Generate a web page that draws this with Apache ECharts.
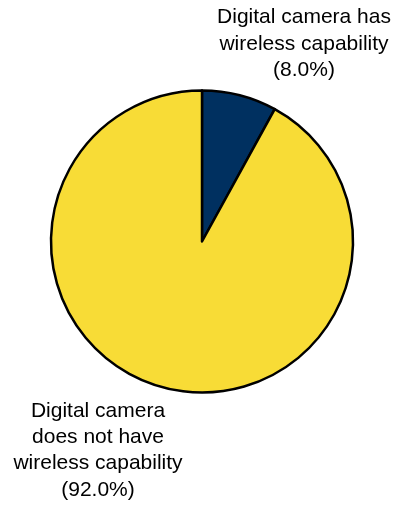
<!DOCTYPE html>
<html>
<head>
<meta charset="utf-8">
<script src="https://cdn.jsdelivr.net/npm/echarts@6/dist/echarts.min.js"></script>
<style>
  html, body { margin: 0; padding: 0; background: #ffffff; }
  #chart { width: 398px; height: 506px; }
</style>
</head>
<body>
<div id="chart"></div>
<script>
// Share of digital cameras with / without wireless capability (percent)
const categories = [
  'Digital camera has\nwireless capability',
  'Digital camera\ndoes not have\nwireless capability'
];
const shares = [8.0, 92.0];
const sliceColors = ['#003060', '#F8DC36'];

// Fixed label anchor points (label centre) for each slice
const labelAnchors = [
  { x: 304, y: 44 },
  { x: 98, y: 450.5 }
];

const chart = echarts.init(document.getElementById('chart'), null, { renderer: 'canvas' });

chart.setOption({
  animation: false,
  backgroundColor: '#ffffff',
  series: [{
    type: 'pie',
    center: [202, 241.5],
    radius: [0, 151],
    startAngle: 90,
    clockwise: true,
    silent: true,
    data: categories.map((name, i) => ({
      name: name,
      value: shares[i],
      itemStyle: { color: sliceColors[i] }
    })),
    itemStyle: { borderColor: '#000000', borderWidth: 2.5 },
    label: {
      show: true,
      position: 'outside',
      formatter: p => p.name + '\n(' + p.value.toFixed(1) + '%)',
      color: '#000000',
      fontFamily: 'Liberation Sans, Arial, sans-serif',
      fontSize: 21,
      lineHeight: 26.3,
      align: 'center',
      overflow: 'none',
      width: 220
    },
    labelLine: { show: false },
    labelLayout: params => ({
      x: labelAnchors[params.dataIndex].x,
      y: labelAnchors[params.dataIndex].y,
      align: 'center',
      verticalAlign: 'middle',
      hideOverlap: false
    })
  }]
});
</script>
</body>
</html>
